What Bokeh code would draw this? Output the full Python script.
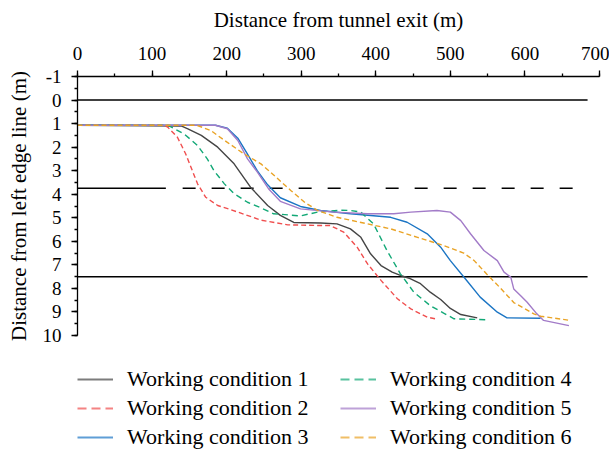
from bokeh.plotting import figure
from bokeh.models import (Range1d, SingleIntervalTicker, Legend, LegendItem)
from bokeh.layouts import column
from bokeh.embed import file_html
from bokeh.resources import INLINE

# ---- data (distance from tunnel exit in m, distance from left edge line in m)
wc1_x = [0, 139, 148, 166, 188, 210, 232, 255, 272, 290, 326, 348, 366, 380, 393, 407, 422, 433, 446, 460, 473, 487, 500, 514, 536]
wc1_y = [1.07, 1.1, 1.22, 1.5, 2.0, 2.71, 3.7, 4.48, 4.9, 5.2, 5.22, 5.26, 5.47, 5.83, 6.53, 7.03, 7.31, 7.45, 7.58, 7.8, 8.16, 8.47, 8.85, 9.11, 9.25]

wc2_x = [0, 116, 121, 134, 145, 154, 161, 172, 188, 206, 246, 282, 326, 339, 357, 375, 389, 407, 429, 447, 469, 480]
wc2_y = [1.07, 1.07, 1.15, 1.58, 2.28, 3.0, 3.56, 4.13, 4.48, 4.66, 5.1, 5.3, 5.33, 5.33, 5.61, 6.25, 6.96, 7.66, 8.44, 8.87, 9.22, 9.29]

wc3_x = [0, 185, 201, 215, 228, 241, 255, 272, 299, 326, 366, 420, 442, 469, 487, 500, 520, 540, 563, 576, 621]
wc3_y = [1.07, 1.07, 1.2, 1.62, 2.3, 3.0, 3.6, 4.15, 4.52, 4.69, 4.83, 4.98, 5.19, 5.68, 6.25, 6.82, 7.59, 8.37, 9.01, 9.25, 9.27]

wc4_x = [0, 121, 143, 161, 174, 183, 197, 210, 228, 246, 263, 299, 322, 353, 366, 380, 397, 415, 433, 451, 473, 491, 505, 549]
wc4_y = [1.07, 1.07, 1.44, 1.93, 2.5, 3.0, 3.56, 3.98, 4.34, 4.58, 4.83, 4.92, 4.76, 4.68, 4.69, 4.76, 5.26, 6.39, 7.38, 8.16, 8.73, 9.05, 9.29, 9.33]

wc5_x = [0, 185, 201, 215, 228, 241, 257, 272, 299, 344, 389, 424, 447, 482, 500, 514, 527, 545, 563, 572, 581, 585, 594, 603, 616, 625, 659]
wc5_y = [1.07, 1.07, 1.22, 1.72, 2.5, 3.05, 3.8, 4.3, 4.62, 4.76, 4.83, 4.83, 4.76, 4.69, 4.76, 5.12, 5.68, 6.39, 6.82, 7.31, 7.52, 8.02, 8.3, 8.59, 9.08, 9.36, 9.58]

wc6_x = [0, 160, 179, 201, 223, 246, 259, 286, 305, 322, 348, 389, 420, 456, 491, 518, 532, 549, 567, 585, 612, 621, 661]
wc6_y = [1.07, 1.07, 1.3, 1.8, 2.28, 2.71, 3.07, 3.84, 4.35, 4.69, 4.98, 5.26, 5.47, 5.83, 6.18, 6.5, 6.82, 7.4, 7.98, 8.6, 9.08, 9.18, 9.36]

labels = ["Working condition 1", "Working condition 2", "Working condition 3",
          "Working condition 4", "Working condition 5", "Working condition 6"]
colors = ["#454545", "#f04e4e", "#1b75c4", "#12a876", "#a27bc8", "#e9a325"]
dashes = ["solid", "5 3", "solid", "6 4", "solid", "5 3"]
legend_dashes = ["solid", "9 5", "solid", "9 5", "solid", "9 5"]

# lane lines
lane_y = [0, 3.75, 7.5]
lane_x_end = 684
center_solid_end = 118.5
center_dash_start = 141

x_ticks_range = (0, 700)
y_ticks_range = (-1, 10)

FONT = "Liberation Serif"

p = figure(frame_width=522, frame_height=259,
           min_border_left=77, min_border_right=10, min_border_top=76, min_border_bottom=10,
           x_range=Range1d(*x_ticks_range), y_range=Range1d(y_ticks_range[1], y_ticks_range[0]),
           x_axis_location="above", output_backend="svg", toolbar_location=None)
p.outline_line_color = None
p.grid.visible = False
p.background_fill_color = "white"
p.border_fill_color = "white"

xa = p.xaxis[0]
xa.ticker = SingleIntervalTicker(interval=100, num_minor_ticks=2)
ya = p.yaxis[0]
ya.ticker = SingleIntervalTicker(interval=1, num_minor_ticks=2)
ya.major_label_overrides = {-1: "-1"}

xa.axis_label = "Distance from tunnel exit (m)"
ya.axis_label = "Distance from left edge line (m)"
for ax in (xa, ya):
    ax.axis_line_color = "black"
    ax.axis_line_width = 1.3
    ax.major_tick_line_color = "black"
    ax.minor_tick_line_color = "black"
    ax.major_tick_line_width = 1.3
    ax.minor_tick_line_width = 1.3
    ax.major_tick_in = 0
    ax.major_tick_out = 6
    ax.minor_tick_in = 0
    ax.minor_tick_out = 3
    ax.major_label_text_font = FONT
    ax.major_label_text_font_size = "19px"
    ax.major_label_text_color = "black"
    ax.axis_label_text_font = FONT
    ax.axis_label_text_font_size = "21px"
    ax.axis_label_text_font_style = "normal"
    ax.axis_label_text_color = "black"
xa.major_label_standoff = 11
xa.axis_label_standoff = 12
ya.major_label_standoff = 10
ya.axis_label_standoff = 9

# lane lines
p.line([0, lane_x_end], [lane_y[0]] * 2, line_color="black", line_width=1.5)
p.line([0, lane_x_end], [lane_y[2]] * 2, line_color="black", line_width=1.5)
p.line([0, center_solid_end], [lane_y[1]] * 2, line_color="black", line_width=1.5)
p.line([center_dash_start, lane_x_end], [lane_y[1]] * 2, line_color="black", line_width=1.5,
       line_dash="13 16")

series = [(wc1_x, wc1_y), (wc2_x, wc2_y), (wc3_x, wc3_y), (wc4_x, wc4_y), (wc5_x, wc5_y), (wc6_x, wc6_y)]
for (xs, ys), c, d in zip(series, colors, dashes):
    p.line(xs, ys, line_color=c, line_width=1.4, line_dash=d)

# legend panel (separate figure so the legend is not clipped by the plot frame);
# its ranges lie outside the data so only the legend shows
p2 = figure(width=609, height=106, min_border=0, x_range=Range1d(-20, -10), y_range=Range1d(-20, -10),
            x_axis_location=None, y_axis_location=None,
            output_backend="svg", toolbar_location=None)
p2.outline_line_color = None
p2.grid.visible = False
proxies = []
for (xs, ys), c, d in zip(series, colors, legend_dashes):
    proxies.append(p2.line(xs, ys, line_color=c, line_width=2, line_dash=d, line_alpha=0.7))
items = [LegendItem(label=labels[i], renderers=[proxies[i]]) for i in range(6)]
legend = Legend(items=items, ncols=2, location=(0, 1),
                glyph_width=36, glyph_height=20, label_height=20, label_width=210,
                label_standoff=14, spacing=3, padding=0, margin=0,
                border_line_color=None, background_fill_alpha=0,
                label_text_font=FONT, label_text_font_size="22px", label_text_color="black")
p2.add_layout(legend, "center")

layout = column(p, p2, spacing=0)
open("out.html", "w").write(file_html(layout, INLINE))
